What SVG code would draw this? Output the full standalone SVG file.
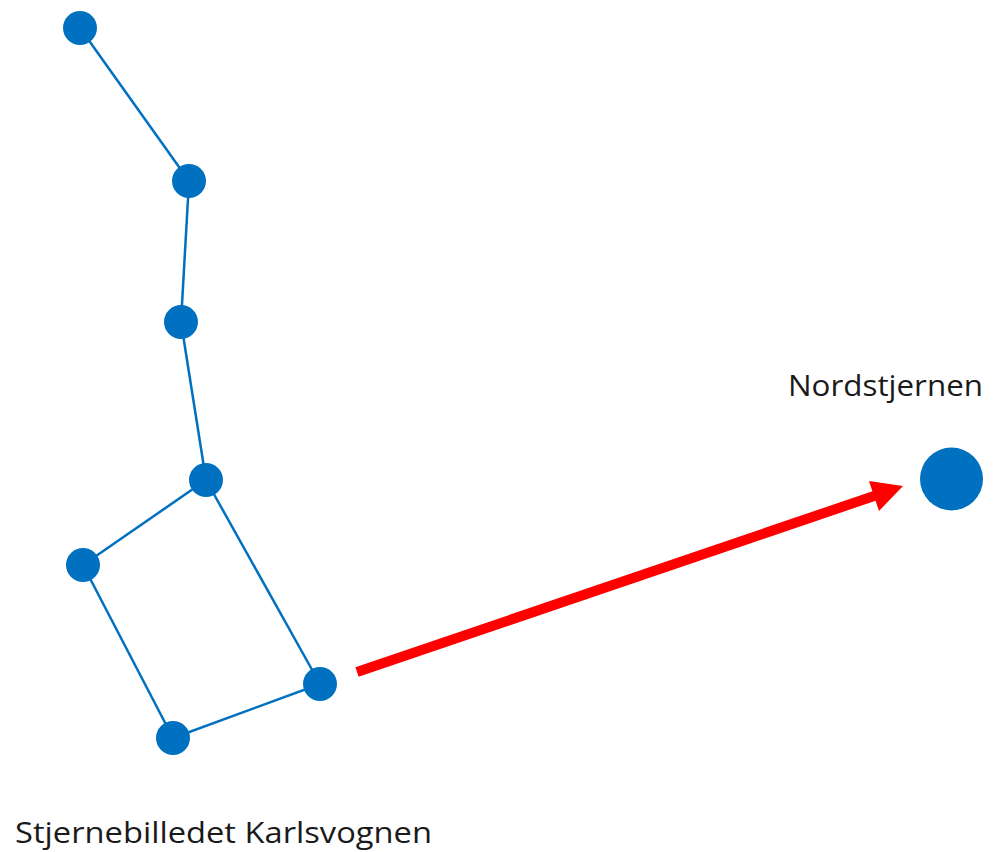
<svg xmlns="http://www.w3.org/2000/svg" width="1005" height="852" viewBox="0 0 1005 852">
<style>
.star{fill:#0070C0}
.link{stroke:#0070C0;stroke-width:2.5;fill:none}
.lbl{font-family:"Open Sans","Liberation Sans",sans-serif;font-size:29px;fill:#1a1a1a}
</style>
<rect width="1005" height="852" fill="#fff"/>
<g id="connectors">
<line class="link" x1="80" y1="28" x2="189" y2="181"/>
<line class="link" x1="189" y1="181" x2="181" y2="322"/>
<line class="link" x1="181" y1="322" x2="206" y2="480"/>
<line class="link" x1="206" y1="480" x2="83" y2="565"/>
<line class="link" x1="83" y1="565" x2="173" y2="738"/>
<line class="link" x1="173" y1="738" x2="320" y2="684"/>
<line class="link" x1="320" y1="684" x2="206" y2="480"/>
<g id="arrow">
<line x1="357" y1="672" x2="877" y2="495" stroke="#FF0000" stroke-width="10"/>
<polygon points="903,486 869,481 879,511" fill="#FF0000"/>
</g>
</g>
<g id="star1"><circle class="star" cx="80" cy="28" r="17"/></g>
<g id="star2"><circle class="star" cx="189" cy="181" r="17"/></g>
<g id="star3"><circle class="star" cx="181" cy="322" r="17"/></g>
<g id="star4"><circle class="star" cx="206" cy="480" r="17"/></g>
<g id="star5"><circle class="star" cx="83" cy="565" r="17"/></g>
<g id="star6"><circle class="star" cx="173" cy="738" r="17"/></g>
<g id="star7"><circle class="star" cx="320" cy="684" r="17"/></g>
<g id="nordstjernen"><circle class="star" cx="951.5" cy="479" r="31.5"/>
<text class="lbl" x="788" y="396" textLength="195" lengthAdjust="spacingAndGlyphs">Nordstjernen</text></g>
<g id="caption"><text class="lbl" x="15" y="843" textLength="417" lengthAdjust="spacingAndGlyphs">Stjernebilledet Karlsvognen</text></g>
</svg>
